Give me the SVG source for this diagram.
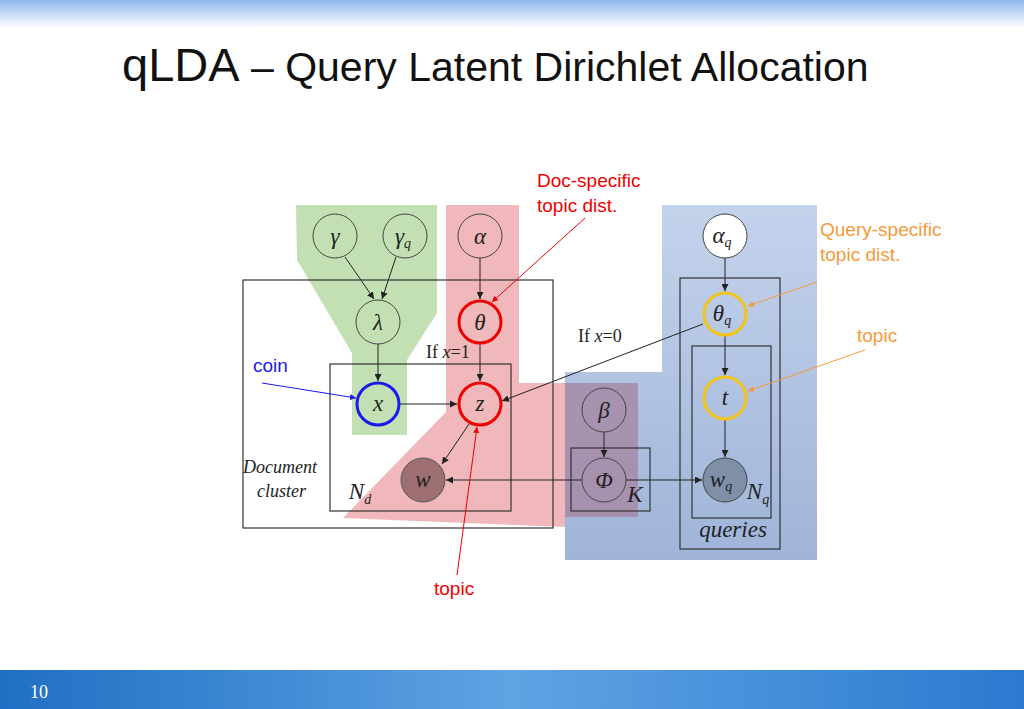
<svg xmlns="http://www.w3.org/2000/svg" width="1024" height="709" viewBox="0 0 1024 709">
<defs>
<linearGradient id="top" x1="0" y1="0" x2="0" y2="1"><stop offset="0" stop-color="#8fb8ea"/><stop offset="1" stop-color="#ffffff"/></linearGradient>
<linearGradient id="bot" x1="0" y1="0" x2="1" y2="0"><stop offset="0" stop-color="#1f6fc4"/><stop offset="0.5" stop-color="#5fa3e3"/><stop offset="1" stop-color="#2b7ad0"/></linearGradient>
<linearGradient id="blu" x1="0" y1="0" x2="0" y2="1"><stop offset="0" stop-color="#c4d3ec"/><stop offset="1" stop-color="#9fb4d8"/></linearGradient>
<marker id="a" viewBox="0 0 10 10" refX="10" refY="5" markerWidth="7" markerHeight="7" orient="auto-start-reverse"><path d="M0,0L10,5L0,10z" fill="#222"/></marker>
<marker id="ar" viewBox="0 0 10 10" refX="10" refY="5" markerWidth="6" markerHeight="6" orient="auto"><path d="M0,0L10,5L0,10z" fill="#e00"/></marker>
<marker id="ao" viewBox="0 0 10 10" refX="10" refY="5" markerWidth="6" markerHeight="6" orient="auto"><path d="M0,0L10,5L0,10z" fill="#f39a3c"/></marker>
<marker id="ab" viewBox="0 0 10 10" refX="10" refY="5" markerWidth="6" markerHeight="6" orient="auto"><path d="M0,0L10,5L0,10z" fill="#1a1aee"/></marker>
</defs>
<style>
.n{fill:none;stroke:#444;stroke-width:1}
.e{stroke:#222;stroke-width:1;fill:none;marker-end:url(#a)}
.box{fill:none;stroke:#333;stroke-width:1.2}
.m{font-family:"Liberation Serif",serif;font-style:italic;font-size:23px;fill:#222;text-anchor:middle}
.s{font-family:"Liberation Serif",serif;font-size:18px;fill:#222}
.ann{font-family:"Liberation Sans",sans-serif;font-size:19px}
</style>
<rect width="1024" height="709" fill="#fff"/>
<rect width="1024" height="28" fill="url(#top)"/>
<rect y="670" width="1024" height="39" fill="url(#bot)"/>
<text x="30" y="698" font-family="Liberation Serif,serif" font-size="18" fill="#fff">10</text>
<text x="122" y="81" font-family="Liberation Sans,sans-serif" fill="#111"><tspan font-size="47">qLDA</tspan><tspan font-size="41"> – Query Latent Dirichlet Allocation</tspan></text>

<g id="shading">
<polygon points="662,205 817,205 817,560 565,560 565,372 662,372" fill="url(#blu)"/>
<polygon points="446,205 519,205 519,383 565,383 565,527 343,518 446,412" fill="#eeb0b2" opacity="0.9"/>
<rect x="565" y="383" width="73" height="134" fill="#a68aa6" opacity="0.85"/>
<polygon points="296,205 437,205 437,313 407,360 407,435 352,435 352,353 297,260" fill="#b7dba7" opacity="0.85"/>
</g>

<g id="plates">
<rect class="box" x="243" y="280" width="310" height="248"/>
<rect class="box" x="330" y="364" width="181" height="147"/>
<rect class="box" x="680" y="278" width="100" height="271"/>
<rect class="box" x="692" y="346" width="79" height="172"/>
<rect class="box" x="571" y="448" width="79" height="63"/>
<text class="s" x="243" y="473" font-style="italic">Document</text>
<text class="s" x="257" y="497" font-style="italic">cluster</text>
<text class="m" x="360" y="499" font-size="22">N<tspan font-size="14" dy="5">d</tspan></text>
<text class="m" x="758" y="499" font-size="22">N<tspan font-size="14" dy="5">q</tspan></text>
<text class="m" x="635" y="502" font-size="22">K</text>
<text class="m" x="733" y="537" font-size="18">queries</text>
<text class="s" x="426" y="358">If <tspan font-style="italic">x</tspan>=1</text>
<text class="s" x="578" y="342">If <tspan font-style="italic">x</tspan>=0</text>
</g>

<g id="connectors">
<line class="e" x1="345" y1="257" x2="374" y2="299"/>
<line class="e" x1="396" y1="257" x2="382" y2="299"/>
<line class="e" x1="480" y1="258" x2="480" y2="299"/>
<line class="e" x1="378" y1="344" x2="378" y2="381"/>
<line class="e" x1="480" y1="344" x2="480" y2="381"/>
<line class="e" x1="400" y1="404" x2="457" y2="404"/>
<line class="e" x1="469" y1="424" x2="442" y2="464"/>
<line class="e" x1="703" y1="324" x2="502" y2="401"/>
<line class="e" x1="725" y1="258" x2="725" y2="291"/>
<line class="e" x1="725" y1="336" x2="725" y2="375"/>
<line class="e" x1="725" y1="420" x2="725" y2="457"/>
<line class="e" x1="604" y1="432" x2="604" y2="457"/>
<line class="e" x1="626" y1="480" x2="702" y2="480"/>
<line class="e" x1="582" y1="480" x2="446" y2="480"/>
</g>

<g id="n-gamma"><circle class="n" cx="335" cy="236" r="22"/><text class="m" x="335" y="244">γ</text></g>
<g id="n-gammaq"><circle class="n" cx="405" cy="236" r="22"/><text class="m" x="403" y="244">γ<tspan font-size="14" dy="4">q</tspan></text></g>
<g id="n-alpha"><circle class="n" cx="480" cy="236" r="22"/><text class="m" x="480" y="244">α</text></g>
<g id="n-lambda"><circle class="n" cx="378" cy="322" r="22"/><text class="m" x="378" y="330">λ</text></g>
<g id="n-theta"><circle cx="480" cy="322" r="21" fill="none" stroke="#e00" stroke-width="3"/><text class="m" x="480" y="330">θ</text></g>
<g id="n-x"><circle cx="378" cy="404" r="21" fill="none" stroke="#1a1aee" stroke-width="3"/><text class="m" x="378" y="411">x</text></g>
<g id="n-z"><circle cx="480" cy="404" r="21" fill="none" stroke="#e00" stroke-width="3"/><text class="m" x="480" y="411">z</text></g>
<g id="n-w"><circle cx="423" cy="480" r="22" fill="#9d6f72" stroke="#555"/><text class="m" x="423" y="487">w</text></g>
<g id="n-alphaq"><circle cx="725" cy="236" r="22" fill="#fff" stroke="#444"/><text class="m" x="722" y="243">α<tspan font-size="14" dy="4">q</tspan></text></g>
<g id="n-thetaq"><circle cx="725" cy="314" r="21" fill="none" stroke="#f2c318" stroke-width="3"/><text class="m" x="722" y="321">θ<tspan font-size="14" dy="4">q</tspan></text></g>
<g id="n-t"><circle cx="725" cy="398" r="21" fill="none" stroke="#f2c318" stroke-width="3"/><text class="m" x="725" y="405">t</text></g>
<g id="n-wq"><circle cx="725" cy="480" r="22" fill="#7f8fa8" stroke="#444"/><text class="m" x="721" y="487">w<tspan font-size="14" dy="4">q</tspan></text></g>
<g id="n-beta"><circle class="n" cx="604" cy="410" r="22"/><text class="m" x="604" y="418">β</text></g>
<g id="n-phi"><circle class="n" cx="604" cy="480" r="22"/><text class="m" x="604" y="488">Φ</text></g>

<g id="annotations">
<text class="ann" x="537" y="187" fill="#e00">Doc-specific</text>
<text class="ann" x="537" y="212" fill="#e00">topic dist.</text>
<line x1="585" y1="218" x2="492" y2="302" stroke="#e00" marker-end="url(#ar)"/>
<text class="ann" x="820" y="236" fill="#f39a3c">Query-specific</text>
<text class="ann" x="820" y="261" fill="#f39a3c">topic dist.</text>
<line x1="817" y1="282" x2="748" y2="306" stroke="#f39a3c" marker-end="url(#ao)"/>
<text class="ann" x="857" y="342" fill="#f39a3c">topic</text>
<line x1="865" y1="350" x2="748" y2="391" stroke="#f39a3c" marker-end="url(#ao)"/>
<text class="ann" x="253" y="372" fill="#1a1aee">coin</text>
<line x1="262" y1="383" x2="356" y2="398" stroke="#1a1aee" marker-end="url(#ab)"/>
<text class="ann" x="434" y="595" fill="#e00">topic</text>
<line x1="457" y1="575" x2="477" y2="427" stroke="#e00" marker-end="url(#ar)"/>
</g>
</svg>
